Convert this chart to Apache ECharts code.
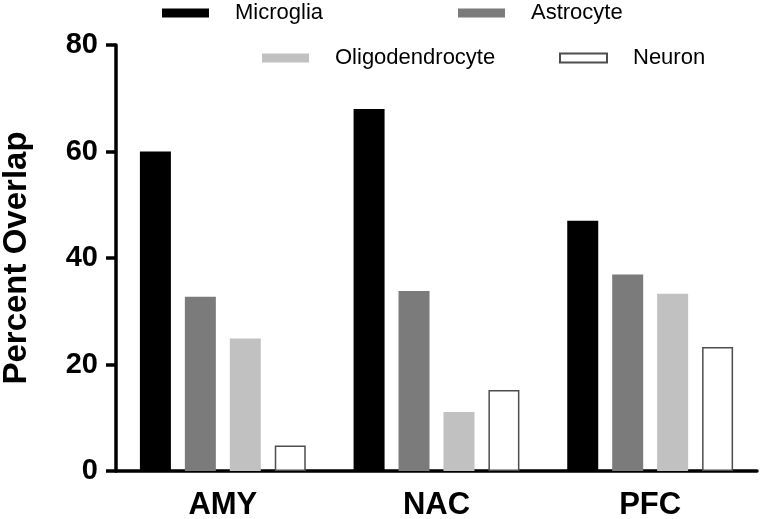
<!DOCTYPE html>
<html>
<head>
<meta charset="utf-8">
<script src="https://cdn.jsdelivr.net/npm/echarts@6/dist/echarts.min.js"></script>
<style>
html,body{margin:0;padding:0;background:#fff;}
#chart{width:760px;height:519px;}
</style>
</head>
<body>
<div id="chart"></div>
<script>
var categories = ['AMY', 'NAC', 'PFC'];
var yTicks = [0, 20, 40, 60, 80];
var microglia = [60.0, 68.0, 47.0];
var astrocyte = [32.7, 33.8, 36.9];
var oligodendrocyte = [24.9, 11.1, 33.3];
var neuron = [4.8, 15.2, 23.3];
var seriesNames = ['Microglia', 'Astrocyte', 'Oligodendrocyte', 'Neuron'];

var FONT = 'Liberation Sans, Arial, sans-serif';
var chart = echarts.init(document.getElementById('chart'), null, {renderer: 'canvas'});

function legendAt(name, left, top) {
  return {
    data: [name],
    left: left, top: top,
    padding: 0,
    itemWidth: 47, itemHeight: 9,
    selectedMode: false,
    icon: 'rect',
    textStyle: {fontFamily: FONT, fontSize: 22, color: '#000', lineHeight: 20, padding: [0, 0, 0, 21]}
  };
}

function barSeries(name, data, color, border, bw) {
  return {
    name: name, type: 'bar', data: data,
    barWidth: 31, barGap: '45%',
    itemStyle: {color: color, borderColor: border, borderWidth: bw},
    emphasis: {disabled: true}
  };
}

chart.setOption({
  animation: false,
  legend: [
    legendAt(seriesNames[0], 162, 2),
    legendAt(seriesNames[1], 458, 2),
    legendAt(seriesNames[2], 262, 47),
    legendAt(seriesNames[3], 559, 47)
  ],
  grid: {left: 116, right: 3, top: 45, bottom: 48, containLabel: false, outerBoundsMode: 'none'},
  xAxis: {
    type: 'category',
    data: categories,
    boundaryGap: true,
    axisLine: {lineStyle: {color: '#000', width: 3.5}},
    axisTick: {alignWithLabel: true, length: 14, lineStyle: {color: '#000', width: 3.5}},
    axisLabel: {margin: 19, fontFamily: FONT, fontSize: 31, fontWeight: 'bold', color: '#000'}
  },
  yAxis: {
    type: 'value',
    min: yTicks[0], max: yTicks[yTicks.length - 1], interval: 20,
    name: 'Percent Overlap',
    nameLocation: 'middle',
    nameGap: 83,
    nameTextStyle: {fontFamily: FONT, fontSize: 33, fontWeight: 'bold', color: '#000'},
    axisLine: {show: true, lineStyle: {color: '#000', width: 3.5}},
    axisTick: {show: true, length: 10, lineStyle: {color: '#000', width: 3.5}},
    axisLabel: {margin: 18, fontFamily: FONT, fontSize: 29, fontWeight: 'bold', color: '#000'},
    splitLine: {show: false}
  },
  series: [
    barSeries(seriesNames[0], microglia, '#000000', '#000000', 0),
    barSeries(seriesNames[1], astrocyte, '#7b7b7b', '#7b7b7b', 0),
    barSeries(seriesNames[2], oligodendrocyte, '#c1c1c1', '#c1c1c1', 0),
    barSeries(seriesNames[3], neuron, '#ffffff', '#4d4d4d', 1.5)
  ]
});
</script>
</body>
</html>
